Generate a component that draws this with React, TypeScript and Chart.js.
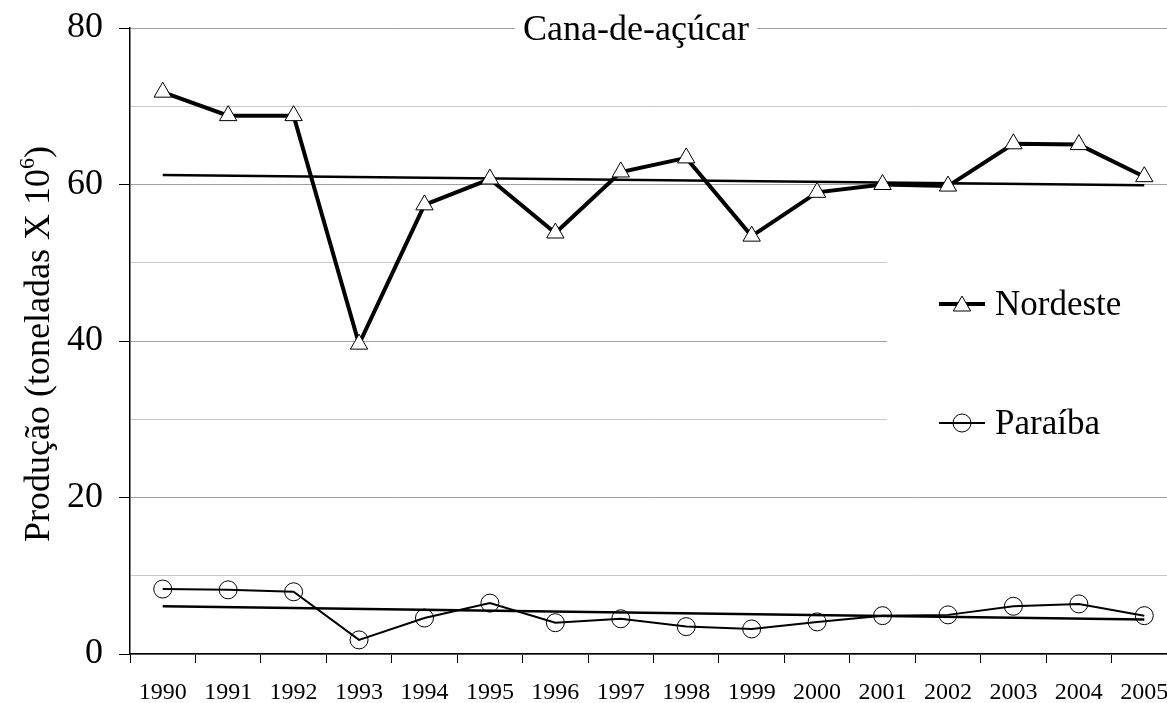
import React, { useEffect, useRef } from 'react';
import { Chart, registerables } from 'chart.js';

Chart.register(...registerables);

// ---- Data ----
const years = ['1990', '1991', '1992', '1993', '1994', '1995', '1996', '1997', '1998', '1999', '2000', '2001', '2002', '2003', '2004', '2005'];
const nordeste = [71.8, 68.8, 68.8, 39.6, 57.4, 60.7, 53.8, 61.6, 63.4, 53.4, 59.0, 60.0, 59.8, 65.2, 65.1, 61.0];
const paraiba = [8.3, 8.2, 7.95, 1.8, 4.6, 6.5, 4.0, 4.5, 3.5, 3.2, 4.1, 4.9, 5.0, 6.1, 6.4, 4.9];
// trend lines: value at first and last year
const trendYears = ['1990', '2005'];
const nordesteTrend = [61.2, 59.9];
const paraibaTrend = [6.1, 4.4];
const yMin = 0;
const yMax = 80;
const yStep = 10;
const yLabelStep = 20;

const titleText = 'Cana-de-açúcar';
const yTitleMain = 'Produção (toneladas X 10';
const yTitleSup = '6';
const yTitleClose = ')';
const legendNames = ['Nordeste', 'Paraíba'];

const FONT = '"Liberation Serif", "Times New Roman", serif';

function drawTriangle(ctx: CanvasRenderingContext2D, x: number, y: number, r: number) {
  ctx.beginPath();
  for (let i = 0; i < 3; i++) {
    const a = (i * 2 * Math.PI) / 3;
    const px = x + Math.sin(a) * r;
    const py = y - Math.cos(a) * r;
    if (i === 0) ctx.moveTo(px, py);
    else ctx.lineTo(px, py);
  }
  ctx.closePath();
  ctx.fillStyle = '#ffffff';
  ctx.fill();
  ctx.lineWidth = 1;
  ctx.strokeStyle = '#000000';
  ctx.stroke();
}

const overlayPlugin = {
  id: 'overlayPlugin',
  beforeDatasetsDraw(chart: any) {
    const ctx: CanvasRenderingContext2D = chart.ctx;
    ctx.save();
    ctx.fillStyle = '#ffffff';
    // legend box masks the grid
    ctx.fillRect(887, 200, chart.width - 887, 280);
    // title box masks the top grid line
    ctx.font = `36px ${FONT}`;
    const w = ctx.measureText(titleText).width;
    ctx.fillRect(636 - w / 2 - 8, 8, w + 16, 40);
    ctx.restore();
  },
  afterDraw(chart: any) {
    const ctx: CanvasRenderingContext2D = chart.ctx;
    ctx.save();
    // title
    ctx.fillStyle = '#000000';
    ctx.font = `36px ${FONT}`;
    ctx.textAlign = 'center';
    ctx.textBaseline = 'alphabetic';
    ctx.fillText(titleText, 636, 40);

    // y axis title (rotated, with superscript)
    ctx.save();
    ctx.translate(40, 344);
    ctx.rotate(-Math.PI / 2);
    ctx.textAlign = 'left';
    ctx.textBaseline = 'middle';
    ctx.font = `36px ${FONT}`;
    const wMain = ctx.measureText(yTitleMain).width;
    const wClose = ctx.measureText(yTitleClose).width;
    ctx.font = `22px ${FONT}`;
    const wSup = ctx.measureText(yTitleSup).width;
    let x = -(wMain + wSup + wClose) / 2;
    ctx.font = `36px ${FONT}`;
    ctx.fillText(yTitleMain, x, 0);
    x += wMain;
    ctx.font = `22px ${FONT}`;
    ctx.fillText(yTitleSup, x, -12);
    x += wSup;
    ctx.font = `36px ${FONT}`;
    ctx.fillText(yTitleClose, x, 0);
    ctx.restore();

    // legend
    const lx0 = 939;
    const lx1 = 985;
    const mx = 962;
    const rows = [304, 423];
    // Nordeste
    ctx.strokeStyle = '#000000';
    ctx.lineWidth = 4;
    ctx.beginPath();
    ctx.moveTo(lx0, rows[0]);
    ctx.lineTo(lx1, rows[0]);
    ctx.stroke();
    drawTriangle(ctx, mx, rows[0] + 2, 10);
    // Paraíba
    ctx.lineWidth = 2;
    ctx.beginPath();
    ctx.moveTo(lx0, rows[1]);
    ctx.lineTo(lx1, rows[1]);
    ctx.stroke();
    ctx.lineWidth = 1;
    ctx.beginPath();
    ctx.arc(mx, rows[1], 9, 0, Math.PI * 2);
    ctx.stroke();

    ctx.fillStyle = '#000000';
    ctx.font = `35px ${FONT}`;
    ctx.textAlign = 'left';
    ctx.textBaseline = 'middle';
    ctx.fillText(legendNames[0], 995, rows[0] + 2);
    ctx.fillText(legendNames[1], 995, rows[1] + 2);
    ctx.restore();
  },
};

export default function App() {
  const canvasRef = useRef<HTMLCanvasElement | null>(null);

  useEffect(() => {
    if (!canvasRef.current) return;
    const chart = new Chart(canvasRef.current, {
      type: 'line',
      data: {
        labels: years,
        datasets: [
          {
            label: legendNames[0],
            data: nordeste,
            borderColor: '#000000',
            borderWidth: 4,
            pointStyle: 'triangle',
            pointRadius: 10,
            pointBackgroundColor: '#ffffff',
            pointBorderColor: '#000000',
            pointBorderWidth: 1,
            tension: 0,
            order: 1,
          },
          {
            label: legendNames[1],
            data: paraiba,
            borderColor: '#000000',
            borderWidth: 2,
            pointStyle: 'circle',
            pointRadius: 9,
            pointBackgroundColor: 'rgba(0,0,0,0)',
            pointBorderColor: '#000000',
            pointBorderWidth: 1,
            tension: 0,
            order: 1,
          },
          {
            label: 'trend-nordeste',
            data: trendYears.map((y, i) => ({ x: y, y: nordesteTrend[i] })) as any,
            borderColor: '#000000',
            borderWidth: 2.5,
            pointRadius: 0,
            order: 2,
          },
          {
            label: 'trend-paraiba',
            data: trendYears.map((y, i) => ({ x: y, y: paraibaTrend[i] })) as any,
            borderColor: '#000000',
            borderWidth: 2.5,
            pointRadius: 0,
            order: 2,
          },
        ],
      },
      options: {
        animation: false,
        responsive: false,
        devicePixelRatio: 1,
        layout: { padding: { top: 28, right: 4, left: 0, bottom: 0 } },
        plugins: {
          legend: { display: false },
          title: { display: false },
          tooltip: { enabled: false },
        },
        scales: {
          x: {
            type: 'category',
            offset: true,
            grid: {
              display: true,
              offset: true,
              drawOnChartArea: false,
              drawTicks: true,
              tickLength: 9,
              tickColor: '#000000',
              tickWidth: 1,
            },
            border: { display: true, color: '#000000', width: 1.5 },
            ticks: {
              color: '#000000',
              font: { family: FONT, size: 24 },
              padding: 15,
              maxRotation: 0,
              autoSkip: false,
            },
            afterFit: (scale: any) => {
              scale.height = 49;
            },
          },
          y: {
            min: yMin,
            max: yMax,
            ticks: {
              stepSize: yStep,
              color: '#000000',
              font: { family: FONT, size: 36 },
              padding: 16,
              callback: (v: any) => (Number(v) % yLabelStep === 0 ? String(v) : ''),
            },
            grid: {
              color: (c: any) => (c.tick && c.tick.value % yLabelStep === 0 ? '#a0a0a0' : '#c8c8c8'),
              lineWidth: 1,
              tickLength: 11,
              tickColor: (c: any) => (c.tick && c.tick.value % yLabelStep === 0 ? '#000000' : 'rgba(0,0,0,0)'),
            },
            border: { display: true, color: '#000000', width: 1.5 },
            title: { display: false },
            afterFit: (scale: any) => {
              scale.width = 130;
              scale.paddingTop = 0;
              scale.paddingBottom = 0;
            },
          },
        },
      },
      plugins: [overlayPlugin],
    });
    return () => chart.destroy();
  }, []);

  return (
    <div style={{ position: 'fixed', left: 0, top: 0, width: 1190, height: 703, background: '#ffffff' }}>
      <canvas ref={canvasRef} width={1188} height={703} style={{ display: 'block' }} />
    </div>
  );
}
